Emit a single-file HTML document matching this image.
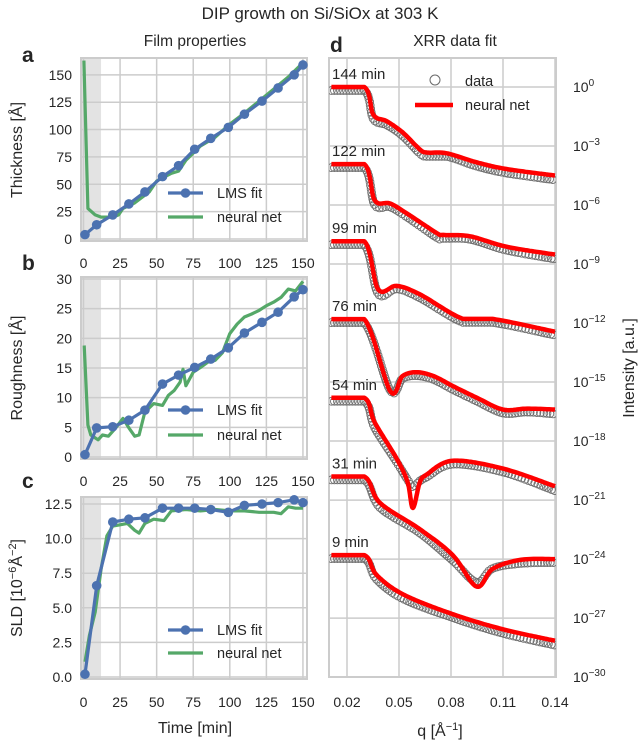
<!DOCTYPE html>
<html><head><meta charset="utf-8">
<style>
html,body{margin:0;padding:0;background:#fff;}
svg text{font-family:"Liberation Sans",sans-serif;fill:#262626;}
</style></head>
<body>
<svg id="fig" width="640" height="741" viewBox="0 0 640 741" xmlns="http://www.w3.org/2000/svg">
<text x="320" y="19" font-size="17" text-anchor="middle">DIP growth on Si/SiOx at 303 K</text>
<text x="195" y="46" font-size="15.5" text-anchor="middle">Film properties</text>
<text x="455" y="46" font-size="15.5" text-anchor="middle">XRR data fit</text>
<text x="22" y="62" font-size="21" font-weight="bold">a</text>
<text x="22" y="270" font-size="21" font-weight="bold">b</text>
<text x="22" y="488" font-size="21" font-weight="bold">c</text>
<text x="330" y="52" font-size="21" font-weight="bold">d</text>
<text transform="translate(22,150) rotate(-90)" font-size="16" text-anchor="middle">Thickness [Å]</text>
<text transform="translate(22,368) rotate(-90)" font-size="16" text-anchor="middle">Roughness [Å]</text>
<text transform="translate(22,588) rotate(-90)" font-size="16" text-anchor="middle">SLD [10<tspan font-size="11" dy="-6">−6</tspan><tspan dy="6">Å</tspan><tspan font-size="11" dy="-6">−2</tspan><tspan dy="6">]</tspan></text>
<text x="195" y="733" font-size="16" text-anchor="middle">Time [min]</text>
<text x="440" y="736" font-size="16" text-anchor="middle">q [Å<tspan font-size="11" dy="-6">−1</tspan><tspan dy="6">]</tspan></text>
<text transform="translate(634,368) rotate(-90)" font-size="16" text-anchor="middle">Intensity [a.u.]</text>
</svg>
<script>
// ---------- data: film properties ----------
const xTicks = [0,25,50,75,100,125,150];
const thickTicks = [0,25,50,75,100,125,150];
const roughTicks = [0,5,10,15,20,25,30];
const sldTicks = [0,2.5,5,7.5,10,12.5];
const sldTickLabels = ["0.0","2.5","5.0","7.5","10.0","12.5"];
const lmsTime = [1,9,20,31,42,54,65,76,87,99,110,122,133,144,150];
const lmsThickness = [4,13,22,32,43,57,67,82,92,102,114,126,138,150,159];
const lmsRoughness = [0.4,4.9,5.1,6.2,7.9,12.3,13.8,15.1,16.5,18.4,20.9,22.7,24.4,27,28.2];
const lmsSld = [0.2,6.6,11.2,11.4,11.5,12.2,12.2,12.2,12.1,11.9,12.4,12.5,12.6,12.8,12.6];
const nnThickTime = [0.3,3,8,12,20,24,27,35,45,50,60,65,70,80,90,100,110,120,130,140,150];
const nnThickness = [163,28,22,20,20,22,28,33,43,53,60,62,72,85,93,105,115,126,137,148,161];
const nnRoughTime = [0.5,3,5,10,13,17,22,27,31,35,38,42,48,54,58,62,66,68,70,75,80,85,90,95,100,105,110,115,120,125,130,135,140,145,150];
const nnRoughness = [18.8,5.4,3.7,2.9,3.7,3.5,4.9,6.5,4.9,3.5,3.7,7.6,9,8.7,10.4,11.2,12.6,14.8,12,14.3,15.1,16,16.3,17.6,20.8,22.4,23.6,24.1,24.7,25.5,26.1,26.9,28.3,28,29.6];
const nnSldTime = [1,4,8,12,16,20,25,30,35,38,42,48,55,60,70,80,90,100,110,120,130,135,140,145,150];
const nnSld = [1.1,3.0,4.7,7.8,10.2,10.9,11.0,11.1,10.6,10.4,11.1,11.4,11.3,12.0,12.1,12.0,12.1,12.0,12.0,11.9,11.9,11.8,12.3,12.2,12.2];
// ---------- data: XRR ----------
const curveLabels = ["144 min","122 min","99 min","76 min","54 min","31 min","9 min"];
const curveOffsets = [0,-3.92,-7.84,-11.8,-15.8,-19.8,-23.8];
const q144 = [0.011,0.030,0.0352,0.0429,0.052,0.062,0.066,0.0775,0.0948,0.112,0.140];
const fit144 = [0,0,-1.41,-1.74,-2.3,-3.17,-3.33,-3.37,-3.83,-4.17,-4.5];
const data144 = [-0.1,-0.1,-1.55,-1.85,-2.4,-3.3,-3.45,-3.45,-3.95,-4.3,-4.65];
const q122 = [0.011,0.030,0.036,0.0448,0.0544,0.0717,0.0755,0.091,0.112,0.140];
const fit122 = [0,0,-1.84,-2.0,-2.5,-3.5,-3.6,-3.67,-4.2,-4.6];
const data122 = [-0.1,-0.1,-2.0,-2.1,-2.6,-3.65,-3.7,-3.75,-4.3,-4.75];
const q99 = [0.011,0.030,0.038,0.0487,0.062,0.087,0.104,0.140];
const fit99 = [0,0,-2.45,-2.27,-2.7,-3.95,-3.95,-4.6];
const data99 = [-0.1,-0.1,-2.6,-2.35,-2.8,-4.05,-4.05,-4.7];
const q76 = [0.011,0.030,0.045,0.052,0.060,0.070,0.081,0.095,0.11,0.124,0.140];
const fit76 = [0,0,-3.67,-2.9,-2.7,-2.9,-3.4,-4.0,-4.6,-4.55,-4.6];
const data76 = [-0.1,-0.1,-3.55,-2.95,-2.8,-3.0,-3.5,-4.1,-4.7,-4.65,-4.75];
const q54 = [0.011,0.030,0.036,0.0487,0.055,0.058,0.062,0.066,0.081,0.11,0.140];
const fit54 = [0,0,-1.25,-3.1,-4.3,-5.6,-4.3,-3.9,-3.2,-3.6,-4.5];
const data54 = [-0.1,-0.1,-1.45,-3.2,-4.1,-4.45,-4.15,-3.95,-3.3,-3.7,-4.65];
const q31 = [0.011,0.030,0.039,0.062,0.081,0.0948,0.104,0.12,0.140];
const fit31 = [0,0,-1.34,-2.68,-4.0,-5.6,-4.7,-4.24,-4.2];
const data31 = [-0.1,-0.1,-1.5,-2.8,-4.2,-5.3,-4.6,-4.35,-4.3];
const q9 = [0.011,0.030,0.037,0.0525,0.081,0.11,0.140];
const fit9 = [0,0,-1.0,-2.0,-3.0,-3.77,-4.35];
const data9 = [-0.1,-0.1,-1.15,-2.15,-3.1,-3.9,-4.5];
const qTicks = [0.02,0.05,0.08,0.11,0.14];
const qTickLabels = ["0.02","0.05","0.08","0.11","0.14"];
const decadeTicks = [0,-3,-6,-9,-12,-15,-18,-21,-24,-27,-30];

const NS = "http://www.w3.org/2000/svg";
const svg = document.getElementById("fig");
function mk(tag, attrs, parent) {
  const e = document.createElementNS(NS, tag);
  for (const k in attrs) e.setAttribute(k, attrs[k]);
  (parent || svg).appendChild(e);
  return e;
}
const GRID = "#cccccc", BLUE = "#4c72b0", GREEN = "#55a868";
const xpx = t => 83.5 + t * 1.463;

function panel(name, T, B, y0, y1, ticks, tickLabels, xLabY) {
  const L = 81, R = 307;
  const ypx = v => B - 2 + (v - y0) / (y1 - y0) * -(B - 2 - (T + 2));
  const g = mk("g", {});
  
  
  const shade = mk("rect", {x: L, y: T, width: xpx(12) - L, height: B - T, fill: "#e3e3e3"}, g);
  
  
  xTicks.forEach(t => {
    const l = mk("line", {x1: xpx(t), x2: xpx(t), y1: T, y2: B, stroke: GRID, "stroke-width": 1.5}, g);
    
    
    const tx = mk("text", {x: xpx(t), y: xLabY + 5, "font-size": 14, "text-anchor": "middle"}, g);
    tx.textContent = t;
    
    
  });
  ticks.forEach((v, i) => {
    const l = mk("line", {x1: L, x2: R, y1: ypx(v), y2: ypx(v), stroke: GRID, "stroke-width": 1.5}, g);
    
    
    const tx = mk("text", {x: 72, y: ypx(v) + 5, "font-size": 14, "text-anchor": "end"}, g);
    tx.textContent = tickLabels[i];
    
    
  });
  const fr = mk("rect", {x: L, y: T, width: R - L, height: B - T, fill: "none", stroke: GRID, "stroke-width": 2}, g);
  
  
  return {g, ypx, T, B};
}
function series(p, name, xs, ys, color, markers) {
  const pts = xs.map((x, i) => xpx(x).toFixed(1) + "," + p.ypx(ys[i]).toFixed(1)).join(" ");
  const pl = mk("polyline", {points: pts, fill: "none", stroke: color, "stroke-width": 3.2, "stroke-linejoin": "round"}, p.g);
  
  
  if (markers) xs.forEach((x, i) => {
    const c = mk("circle", {cx: xpx(x), cy: p.ypx(ys[i]), r: 4.8, fill: color}, p.g);
    
    
  });
}
function legend(p, name, y1, y2) {
  const g = mk("g", {}, p.g);
  
  
  mk("line", {x1: 168, x2: 203, y1: y1, y2: y1, stroke: BLUE, "stroke-width": 3.2}, g);
  mk("circle", {cx: 185.5, cy: y1, r: 4.8, fill: BLUE}, g);
  const t1 = mk("text", {x: 217, y: y1 + 5, "font-size": 14.5}, g); t1.textContent = "LMS fit";
  
  
  mk("line", {x1: 168, x2: 203, y1: y2, y2: y2, stroke: GREEN, "stroke-width": 3.2}, g);
  const t2 = mk("text", {x: 217, y: y2 + 5, "font-size": 14.5}, g); t2.textContent = "neural net";
  
  
}
const pa = panel("thickness", 58, 241, 0, 150 * (241 - 60) / (241 - 75), thickTicks, thickTicks.map(String), 263);
series(pa, "thickness-nn", nnThickTime, nnThickness, GREEN, false);
series(pa, "thickness-lms", lmsTime, lmsThickness, BLUE, true);
legend(pa, "thickness", 193, 217);
const pb = panel("roughness", 277, 459, 0, 30, roughTicks, roughTicks.map(String), 481);
series(pb, "roughness-nn", nnRoughTime, nnRoughness, GREEN, false);
series(pb, "roughness-lms", lmsTime, lmsRoughness, BLUE, true);
legend(pb, "roughness", 410, 435);
const pc = panel("sld", 497, 679, 0, 12.5 * (677 - 499) / (677 - 504), sldTicks, sldTickLabels, 702);
series(pc, "sld-nn", nnSldTime, nnSld, GREEN, false);
series(pc, "sld-lms", lmsTime, lmsSld, BLUE, true);
legend(pc, "sld", 630, 653);

// ---------- XRR panel ----------
const DL = 329, DR = 556, DT = 58, DB = 677;
const qpx = q => 347 + (q - 0.02) / 0.03 * 52;
const lpx = v => 87 - v * 19.67;
const gd = mk("g", {});


qTicks.forEach((q, i) => {
  const l = mk("line", {x1: qpx(q), x2: qpx(q), y1: DT, y2: DB, stroke: GRID, "stroke-width": 1.5}, gd);
  
  
  const t = mk("text", {x: qpx(q), y: 707, "font-size": 14, "text-anchor": "middle"}, gd);
  t.textContent = qTickLabels[i];
  
  
});
decadeTicks.forEach(d => {
  if (d > -30) {
    const l = mk("line", {x1: DL, x2: DR, y1: lpx(d), y2: lpx(d), stroke: GRID, "stroke-width": 1.5}, gd);
    
    
  }
  const t = mk("text", {x: 573, y: lpx(d) + 5, "font-size": 14}, gd);
  
  
  t.appendChild(document.createTextNode("10"));
  const s = mk("tspan", {"font-size": 10, dy: -6}, t);
  s.textContent = d === 0 ? "0" : "−" + (-d);
});
const frd = mk("rect", {x: DL, y: DT, width: DR - DL, height: DB - DT, fill: "none", stroke: GRID, "stroke-width": 2}, gd);



// Catmull-Rom smoothing sampler (rendering only)
function smoothSample(P, step) {
  const out = [];
  for (let i = 0; i < P.length - 1; i++) {
    const p0 = P[Math.max(0, i - 1)], p1 = P[i], p2 = P[i + 1], p3 = P[Math.min(P.length - 1, i + 2)];
    const flat = (p1[1] === p2[1]);
    const len = Math.hypot(p2[0] - p1[0], p2[1] - p1[1]);
    const n = Math.max(2, Math.round(len / step));
    for (let j = 0; j < n; j++) {
      const t = j / n;
      if (flat) { out.push([p1[0] + (p2[0] - p1[0]) * t, p1[1]]); continue; }
      const t2 = t * t, t3 = t2 * t;
      const f = k => 0.5 * ((2 * p1[k]) + (-p0[k] + p2[k]) * t + (2 * p0[k] - 5 * p1[k] + 4 * p2[k] - p3[k]) * t2 + (-p0[k] + 3 * p1[k] - 3 * p2[k] + p3[k]) * t3);
      out.push([f(0), f(1)]);
    }
  }
  out.push(P[P.length - 1]);
  return out;
}

const qs = [q144, q122, q99, q76, q54, q31, q9];
const fits = [fit144, fit122, fit99, fit76, fit54, fit31, fit9];
const datas = [data144, data122, data99, data76, data54, data31, data9];
const clipD = mk("clipPath", {id: "clipd"});
mk("rect", {x: DL, y: DT, width: DR - DL, height: DB - DT}, clipD);
const gc = mk("g", {"clip-path": "url(#clipd)"}, gd);
qs.forEach((qa, k) => {
  const off = curveOffsets[k];
  const dp = smoothSample(qa.map((q, i) => [qpx(q), lpx(datas[k][i] + off) + 1.5]), 1);
  const gDat = mk("g", {fill: "none", stroke: "#707070", "stroke-width": 0.9}, gc);
  
  
  let acc = 99, prev = null;
  dp.forEach(p => {
    if (prev) acc += Math.hypot(p[0] - prev[0], p[1] - prev[1]);
    prev = p;
    if (acc >= 2.6) {
      acc = 0;
      mk("circle", {cx: p[0].toFixed(1), cy: p[1].toFixed(1), r: 3.9}, gDat);
    }
  });
  const fp = smoothSample(qa.map((q, i) => [qpx(q), lpx(fits[k][i] + off)]), 2);
  const pts = fp.map(p => p[0].toFixed(1) + "," + p[1].toFixed(1)).join(" ");
  const pl = mk("polyline", {points: pts, fill: "none", stroke: "#ff0000", "stroke-width": 4.5, "stroke-linejoin": "round"}, gc);
  
  
  const t = mk("text", {x: 332, y: lpx(off) - 8, "font-size": 15}, gd);
  t.textContent = curveLabels[k];
  
  
});
const lg = mk("g", {}, gd);


mk("circle", {cx: 435, cy: 80, r: 5, fill: "none", stroke: "#6a6a6a", "stroke-width": 1}, lg);
const ld = mk("text", {x: 465, y: 86, "font-size": 14.5}, lg); ld.textContent = "data";


mk("line", {x1: 415, x2: 453, y1: 105, y2: 105, stroke: "#ff0000", "stroke-width": 4.5}, lg);
const ln = mk("text", {x: 465, y: 110, "font-size": 14.5}, lg); ln.textContent = "neural net";


</script>
</body></html>
